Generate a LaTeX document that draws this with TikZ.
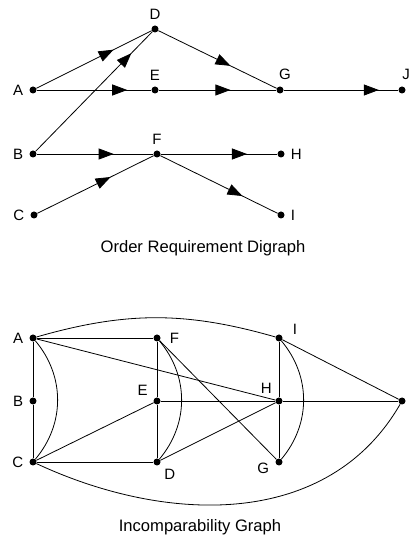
\documentclass[tikz,border=0pt]{standalone}
\usepackage{fontspec}
\setmainfont{Liberation Sans}
\usetikzlibrary{arrows.meta, decorations.markings}

\begin{document}
\begin{tikzpicture}[
  x=1pt, y=1pt,
  dot/.style={circle, fill, inner sep=0pt, minimum size=7pt},
  lbl/.style={font=\fontsize{15}{17}\selectfont, inner sep=1pt},
  ttl/.style={font=\fontsize{16.6}{19}\selectfont},
  edge/.style={line width=0.8pt},
  arr/.style={postaction={decorate}, decoration={markings,
    mark=at position #1 with {\arrow{Triangle[length=15pt, width=11pt]}}}},
  every label/.style={lbl}, label distance=5pt
]
\useasboundingbox (0,0) rectangle (410,542);

% order requirement digraph
\node[dot, label=left:A] (oA) at (33,452) {};
\node[dot, label=above:D] (oD) at (155,513) {};
\node[dot, label=above:E] (oE) at (155,452) {};
\node[dot, label={[xshift=5pt]above:G}] (oG) at (280,452) {};
\node[dot, label={[xshift=4pt]above:J}] (oJ) at (402,452) {};
\node[dot, label=left:B] (oB) at (33,388) {};
\node[dot, label=above:F] (oF) at (157,388) {};
\node[dot, label=right:H] (oH) at (281,388) {};
\node[dot, label=left:C] (oC) at (34,327) {};
\node[dot, label=right:I] (oI) at (281,327) {};
\node[ttl] (otitle) at (203,294) {Order Requirement Digraph};

\draw[edge, arr=0.67] (oA) -- (oD);
\draw[edge, arr=0.82] (oB) -- (oD);
\draw[edge, arr=0.61] (oD) -- (oG);
\draw[edge, arr=0.79] (oA) -- (oE);
\draw[edge, arr=0.61] (oE) -- (oG);
\draw[edge, arr=0.83] (oG) -- (oJ);
\draw[edge, arr=0.66] (oB) -- (oF);
\draw[edge, arr=0.74] (oF) -- (oH);
\draw[edge, arr=0.63] (oC) -- (oF);
\draw[edge, arr=0.7] (oF) -- (oI);

% incomparability graph
\node[dot, label=left:A] (iA) at (33,204) {};
\node[dot, label={[label distance=8pt]right:F}] (iF) at (157,204) {};
\node[dot, label={[xshift=16pt, yshift=9pt]center:I}] (iI) at (279,204) {};
\node[dot, label=left:B] (iB) at (33,141) {};
\node[dot, label={[xshift=-2pt, yshift=-2pt]above left:E}] (iE) at (157,141) {};
\node[dot, label=above left:H] (iH) at (279,141) {};
\node[dot] (iJ) at (402,141) {};
\node[dot, label=left:C] (iC) at (33,80) {};
\node[dot, label=below right:D] (iD) at (157,80) {};
\node[dot, label={[yshift=-6pt]left:G}] (iG) at (279,80) {};
\node[ttl] (ititle) at (200,15) {Incomparability Graph};

\draw[edge] (iA) -- (iF);
\draw[edge] (iA) -- (iB) -- (iC);
\draw[edge] (iA) to[bend left=40] (iC);
\draw[edge] (iA) -- (iH);
\draw[edge] (iA) to[bend left=16] (iI);
\draw[edge] (iC) -- (iE);
\draw[edge] (iC) -- (iD);
\draw[edge] (iC) to[out=-25, in=-120] (iJ);
\draw[edge] (iF) -- (iE) -- (iD);
\draw[edge] (iF) to[bend left=40] (iD);
\draw[edge] (iF) -- (iG);
\draw[edge] (iE) -- (iH) -- (iJ);
\draw[edge] (iD) -- (iH);
\draw[edge] (iI) -- (iH) -- (iG);
\draw[edge] (iI) to[bend left=40] (iG);
\draw[edge] (iI) -- (iJ);
\end{tikzpicture}
\end{document}
